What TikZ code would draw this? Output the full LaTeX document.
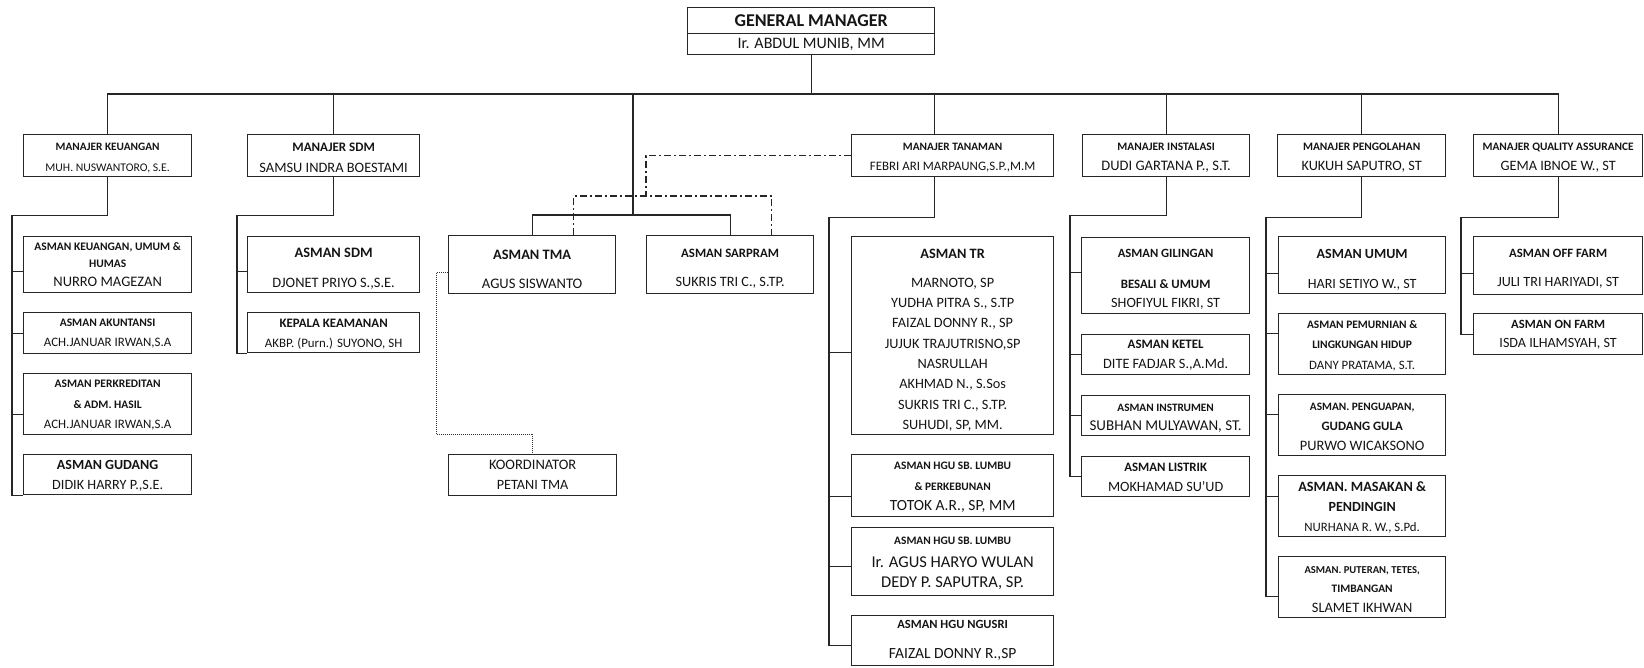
\documentclass[tikz,border=0pt]{standalone}
\usepackage{fontspec}
\setmainfont{Carlito}
\usetikzlibrary{calc}
\newcommand\Stk[2][0]{\vbox{\lineskiplimit=-100pt\lineskip=0pt\kern#1pt #2}}
\newcommand\LB[3]{\baselineskip=#2pt\relax\hbox to 0pt{\hss\fontsize{#1}{#1}\selectfont\bfseries #3\hss}}
\newcommand\LR[3]{\baselineskip=#2pt\relax\hbox to 0pt{\hss\fontsize{#1}{#1}\selectfont\mdseries #3\hss}}
\begin{document}
\begin{tikzpicture}[x=1pt,y=-1pt,
  bx/.style={draw=black!85, line width=1.3pt, inner sep=0pt, anchor=north west, text=black!92},
  wh/.style 2 args={minimum width=#1, minimum height=#2},
  ln/.style={draw=black!85, line width=1.3pt},
  dashdotline/.style={draw=black!85, line width=1.3pt, dash pattern=on 7pt off 3pt on 2pt off 3pt},
  dotline/.style={draw=black!80, line width=1pt, dash pattern=on 1pt off 1pt}]
\useasboundingbox (0,0) rectangle (1644,667);

% General manager
\node[bx, wh={247}{26}] (gmt) at (687,7) {\Stk{\LB{18}{10}{GENERAL MANAGER}}};
\node[bx, wh={247}{21}] (gmn) at (687,33) {\Stk{\LR{16}{10}{Ir. ABDUL MUNIB, MM}}};

% Managers
\node[bx, wh={168}{42}] (mk) at (23,134) {\Stk[5]{\LB{11.3}{10}{MANAJER KEUANGAN}\LR{11.7}{21}{MUH. NUSWANTORO, S.E.}}};
\node[bx, wh={172}{42}] (msdm) at (247,134) {\Stk[5]{\LB{13}{10}{MANAJER SDM}\LR{14.4}{21}{SAMSU INDRA BOESTAMI}}};
\node[bx, wh={202}{42}] (mt) at (851,134) {\Stk[5]{\LB{11.3}{10}{MANAJER TANAMAN}\LR{12.9}{20}{FEBRI ARI MARPAUNG,S.P.,M.M}}};
\node[bx, wh={167}{42}] (mi) at (1082,134) {\Stk[5]{\LB{11.4}{10}{MANAJER INSTALASI}\LR{14.5}{20}{DUDI GARTANA P., S.T.}}};
\node[bx, wh={168}{42}] (mp) at (1277,134) {\Stk[5]{\LB{11.4}{10}{MANAJER PENGOLAHAN}\LR{14.3}{20}{KUKUH SAPUTRO, ST}}};
\node[bx, wh={169}{42}] (mqa) at (1473,134) {\Stk[5]{\LB{11.4}{10}{MANAJER QUALITY ASSURANCE}\LR{14.3}{20}{GEMA IBNOE W., ST}}};

% Keuangan
\node[bx, wh={168}{56}] (k1) at (23,236) {\Stk{\LB{11.5}{10}{ASMAN KEUANGAN, UMUM \&}\LB{11.5}{17}{HUMAS}\LR{14.5}{19}{NURRO MAGEZAN}}};
\node[bx, wh={168}{41}] (k2) at (23,312) {\Stk[1]{\LB{11.5}{10}{ASMAN AKUNTANSI}\LR{12.9}{20}{ACH.JANUAR IRWAN,S.A}}};
\node[bx, wh={168}{61}] (k3) at (23,373) {\Stk[2]{\LB{11.5}{10}{ASMAN PERKREDITAN}\LB{11.5}{21}{\& ADM. HASIL}\LR{12.9}{20}{ACH.JANUAR IRWAN,S.A}}};
\node[bx, wh={168}{40}] (k4) at (23,454) {\Stk[2]{\LB{14}{10}{ASMAN GUDANG}\LR{14.2}{20}{DIDIK HARRY P.,S.E.}}};

% SDM
\node[bx, wh={172}{56}] (s1) at (247,236) {\Stk[8]{\LB{14.4}{10}{ASMAN SDM}\LR{14.4}{30}{DJONET PRIYO S.,S.E.}}};
\node[bx, wh={172}{40}] (s2) at (247,312) {\Stk[4]{\LB{12.9}{10}{KEPALA KEAMANAN}\LR{12.9}{20}{AKBP. (Purn.) SUYONO, SH}}};

% TMA / Sarpram
\node[bx, wh={167}{58}] (tma) at (448,235) {\Stk[9]{\LB{14.4}{10}{ASMAN TMA}\LR{14.6}{29}{AGUS SISWANTO}}};
\node[bx, wh={167}{58}] (sar) at (646,235) {\Stk[9]{\LB{12.8}{10}{ASMAN SARPRAM}\LR{14.3}{29}{SUKRIS TRI C., S.TP.}}};
\node[bx, wh={168}{41}] (kpt) at (448,454) {\Stk{\LR{14.5}{10}{KOORDINATOR}\LR{14.2}{20}{PETANI TMA}}};

% Tanaman
\node[bx, wh={202}{198}] (t1) at (851,236) {\Stk[9]{\LB{14.3}{10}{ASMAN TR}\LR{14.3}{29}{MARNOTO, SP}\LR{14.3}{20.3}{YUDHA PITRA S., S.TP}\LR{14.3}{20.3}{FAIZAL DONNY R., SP}\LR{14.3}{20.3}{JUJUK TRAJUTRISNO,SP}\LR{14.3}{20.3}{NASRULLAH}\LR{14.3}{20.3}{AKHMAD N., S.Sos}\LR{14.3}{20.3}{SUKRIS TRI C., S.TP.}\LR{14.3}{20.3}{SUHUDI, SP, MM.}}};
\node[bx, wh={202}{62}] (t2) at (851,454) {\Stk[3]{\LB{11.4}{10}{ASMAN HGU SB. LUMBU}\LB{11.4}{21}{\& PERKEBUNAN}\LR{15.5}{20}{TOTOK A.R., SP, MM}}};
\node[bx, wh={202}{68}] (t3) at (851,527) {\Stk[3]{\LB{11.4}{10}{ASMAN HGU SB. LUMBU}\LR{16.5}{23}{Ir. AGUS HARYO WULAN}\LR{16.5}{20}{DEDY P. SAPUTRA, SP.}}};
\node[bx, wh={202}{50}] (t4) at (851,615) {\Stk{\LB{12.5}{10}{ASMAN HGU NGUSRI}\LR{15.5}{30}{FAIZAL DONNY R.,SP}}};

% Instalasi
\node[bx, wh={168}{76}] (i1) at (1081,237) {\Stk[8]{\LB{12.6}{10}{ASMAN GILINGAN}\LB{12.8}{31}{BESALI \& UMUM}\LR{14.2}{19}{SHOFIYUL FIKRI, ST}}};
\node[bx, wh={168}{40}] (i2) at (1081,334) {\Stk[2]{\LB{12.9}{10}{ASMAN KETEL}\LR{14.3}{20}{DITE FADJAR S.,A.Md.}}};
\node[bx, wh={168}{40}] (i3) at (1081,395) {\Stk[5]{\LB{11.3}{10}{ASMAN INSTRUMEN}\LR{15}{19}{SUBHAN MULYAWAN, ST.}}};
\node[bx, wh={168}{40}] (i4) at (1081,456) {\Stk[2]{\LB{12.8}{10}{ASMAN LISTRIK}\LR{14.2}{20}{MOKHAMAD SU'UD}}};

% Pengolahan
\node[bx, wh={167}{57}] (p1) at (1278,236) {\Stk[9]{\LB{14}{10}{ASMAN UMUM}\LR{14.1}{30}{HARI SETIYO W., ST}}};
\node[bx, wh={167}{61}] (p2) at (1278,313) {\Stk[4]{\LB{11.4}{10}{ASMAN PEMURNIAN \&}\LB{11.5}{20}{LINGKUNGAN HIDUP}\LR{12.8}{21}{DANY PRATAMA, S.T.}}};
\node[bx, wh={167}{61}] (p3) at (1278,394) {\Stk[3]{\LB{11.3}{10}{ASMAN. PENGUAPAN,}\LB{12.8}{20}{GUDANG GULA}\LR{14.4}{20}{PURWO WICAKSONO}}};
\node[bx, wh={167}{61}] (p4) at (1278,475) {\Stk[3]{\LB{14.2}{10}{ASMAN. MASAKAN \&}\LB{14}{20}{PENDINGIN}\LR{12.8}{20}{NURHANA R. W., S.Pd.}}};
\node[bx, wh={167}{61}] (p5) at (1278,556) {\Stk[4]{\LB{10.6}{10}{ASMAN. PUTERAN, TETES,}\LB{11.4}{19}{TIMBANGAN}\LR{14.4}{20}{SLAMET IKHWAN}}};

% Quality assurance
\node[bx, wh={169}{58}] (q1) at (1473,236) {\Stk[7]{\LB{12.7}{10}{ASMAN OFF FARM}\LR{14.1}{29}{JULI TRI HARIYADI, ST}}};
\node[bx, wh={169}{41}] (q2) at (1473,313) {\Stk[2]{\LB{12.6}{10}{ASMAN ON FARM}\LR{14.1}{19}{ISDA ILHAMSYAH, ST}}};

% Top bus
\coordinate (busL) at (107,94);
\draw[ln] (gmn.south) -- (gmn.south |- busL);
\draw[ln] (mk.north) |- (mqa.north |- busL) -- (mqa.north);
\foreach \n in {msdm,mi,mp} \draw[ln] (\n.north) -- (\n.north |- busL);
\draw[ln] ([xshift=-18pt]mt.north) coordinate (mtc) -- (mtc |- busL);

% TMA / Sarpram branch
\coordinate (tj) at (633,215);
\draw[ln] (tj |- busL) -- (tj);
\draw[ln] (tma.north) |- (tj) -| (sar.north);
\coordinate (dj) at (646,196);
\draw[dashdotline] (mt.west) -| (dj);
\draw[dashdotline] ([xshift=41.5pt]tma.north) |- (dj) -| ([xshift=41.5pt]sar.north);
\draw[dotline] ([yshift=-8pt]tma.west) -- ++(-12,0) |- ([yshift=20pt]kpt.north) -- (kpt.north);

% Keuangan tree
\draw[ln] (mk.south) -- ++(0,38) -| ([xshift=-11pt]k4.south west) -- (k4.south west);
\draw[ln] ([yshift=-7pt]k1.west) -- ++(-11,0);
\draw[ln] (k2.west) -- ++(-11,0);
\draw[ln] ([yshift=-10.5pt]k3.west) -- ++(-11,0);

% SDM tree
\draw[ln] (msdm.south) -- ++(0,38) -| ([xshift=-10pt]s2.south west) -- (s2.south west);
\draw[ln] ([yshift=-7pt]s1.west) -- ++(-10,0);

% Tanaman tree
\draw[ln] (mt.south -| mtc) -- ++(0,40) -| ([xshift=-22pt,yshift=-5pt]t4.west) -- ([yshift=-5pt]t4.west);
\draw[ln] ([yshift=-17pt]t1.west) -- ++(-22,0);
\draw[ln] ([yshift=-11pt]t2.west) -- ++(-22,0);
\draw[ln] ([yshift=-5pt]t3.west) -- ++(-22,0);

% Instalasi tree
\draw[ln] (mi.south) -- ++(0,38) -| ([xshift=-11pt]i4.west) -- (i4.west);
\draw[ln] ([yshift=3pt]i1.west) -- ++(-11,0);
\draw[ln] (i2.west) -- ++(-11,0);
\draw[ln] (i3.west) -- ++(-11,0);

% Pengolahan tree
\draw[ln] (mp.south) -- ++(0,40) -| ([xshift=-12pt,yshift=-9.5pt]p5.west) -- ([yshift=-9.5pt]p5.west);
\draw[ln] ([yshift=-8.5pt]p1.west) -- ++(-12,0);
\draw[ln] ([yshift=10.5pt]p2.west) -- ++(-12,0);
\draw[ln] ([yshift=10.5pt]p3.west) -- ++(-12,0);
\draw[ln] ([yshift=9.5pt]p4.west) -- ++(-12,0);

% QA tree
\draw[ln] (mqa.south) -- ++(0,40) -| ([xshift=-12pt]q2.west) -- (q2.west);
\draw[ln] ([yshift=-8pt]q1.west) -- ++(-12,0);
\end{tikzpicture}
\end{document}
